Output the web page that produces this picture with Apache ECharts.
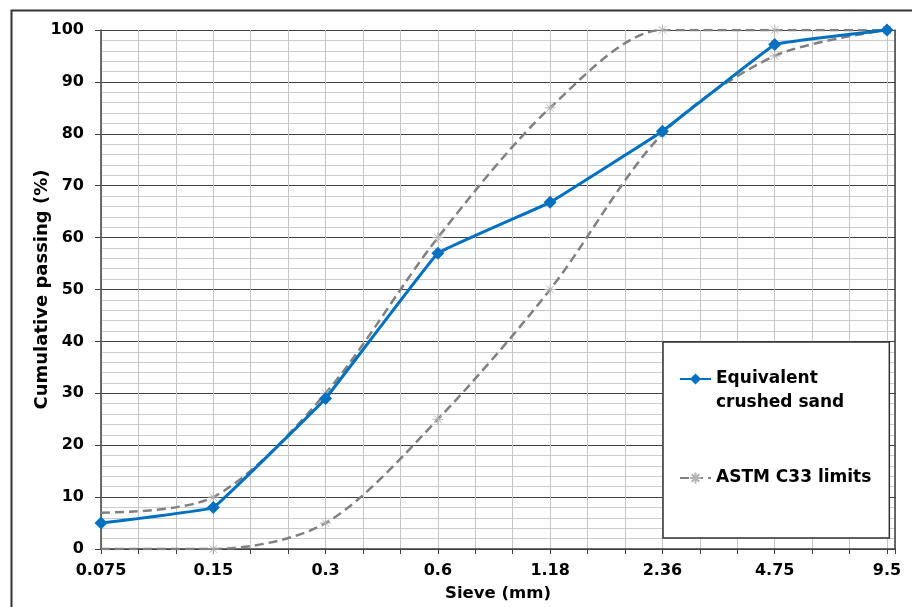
<!DOCTYPE html>
<html><head><meta charset="utf-8">
<script src="https://cdn.jsdelivr.net/npm/echarts@6/dist/echarts.min.js"></script>
<style>html,body{margin:0;padding:0;background:#fff}#c{width:912px;height:607px}</style>
</head><body><div id="c"></div>
<script>
const sieveLabels = ['0.075', '0.15', '0.3', '0.6', '1.18', '2.36', '4.75', '9.5'];
const crushedSand = [5, 8, 29, 57, 66.8, 80.5, 97.2, 100];
const astmUpper = [7, 10, 30, 60, 85, 100, 100, 100];
const astmLower = [0, 0, 5, 25, 50, 80, 95, 100];

const FONT = 'DejaVu Sans';
const STEP = 3; // minor divisions per sieve category
const toXY = (arr) => arr.map((v, i) => [i * STEP, v]);
const toXYNoFirstMarker = (arr) => arr.map((v, i) => i === 0 ? { value: [0, v], symbol: 'none' } : [i * STEP, v]);
const starPath = 'path://M5,0L5,10M0,5L10,5M1.6,1.6L8.4,8.4M1.6,8.4L8.4,1.6';
const lastX = (sieveLabels.length - 1) * STEP;

const chart = echarts.init(document.getElementById('c'), null, { renderer: 'canvas' });
chart.setOption({
  animation: false,
  backgroundColor: '#fff',
  graphic: [{
    type: 'rect', left: 9, top: 8, z: -10, silent: true,
    shape: { width: 1000, height: 700 },
    style: { fill: 'none', stroke: '#333', lineWidth: 2 }
  }],
  grid: { left: 101, right: 17, top: 30, bottom: 58 },
  legend: {
    orient: 'vertical', left: 663, top: 342,
    padding: [1, 18, 48, 16],
    itemGap: 51, itemWidth: 31, itemHeight: 14,
    backgroundColor: '#fff', borderColor: '#333', borderWidth: 1.5,
    textStyle: { fontFamily: FONT, fontWeight: 'bold', fontSize: 17, color: '#000', lineHeight: 24 },
    formatter: (n) => n === 'Equivalent crushed sand' ? '\nEquivalent\ncrushed sand' : n,
    data: ['Equivalent crushed sand', 'ASTM C33 limits']
  },
  xAxis: {
    type: 'value', min: 0, max: lastX + 0.2137, interval: 1,
    name: 'Sieve (mm)', nameLocation: 'middle', nameGap: 36, nameMoveOverlap: false,
    nameTextStyle: { fontFamily: FONT, fontWeight: 'bold', fontSize: 16.5, color: '#000' },
    axisLine: { show: true, onZero: false, lineStyle: { color: '#404040', width: 1.5 } },
    axisTick: { show: true, length: 5, lineStyle: { color: '#404040' } },
    axisLabel: {
      margin: 14, fontFamily: FONT, fontWeight: 'bold', fontSize: 16, color: '#000',
      formatter: (v) => {
        const r = Math.round(v);
        if (Math.abs(v - r) > 1e-6 || r % STEP !== 0 || r > lastX) return '';
        return sieveLabels[r / STEP];
      }
    },
    splitLine: { show: true, lineStyle: { color: '#c4c4c4', width: 1 } }
  },
  yAxis: [{
    type: 'value', min: 0, max: 100, interval: 10,
    name: 'Cumulative passing (%)', nameLocation: 'middle', nameGap: 50, nameMoveOverlap: false,
    nameTextStyle: { fontFamily: FONT, fontWeight: 'bold', fontSize: 18, color: '#000' },
    axisLine: { show: true, lineStyle: { color: '#404040', width: 1.5 } },
    axisTick: { show: true, length: 6, lineStyle: { color: '#404040' } },
    axisLabel: { margin: 17, fontFamily: FONT, fontWeight: 'bold', fontSize: 16, color: '#000' },
    splitLine: { show: true, lineStyle: { color: '#404040', width: 1 } },
    minorTick: { show: false, splitNumber: 5 },
    minorSplitLine: { show: true, lineStyle: { color: '#cccccc', width: 1 } }
  }, {
    type: 'value', min: 0, max: 100, position: 'right',
    axisLine: { show: true, lineStyle: { color: '#404040', width: 1.5 } },
    axisTick: { show: false }, axisLabel: { show: false }, splitLine: { show: false }
  }],
  series: [{
    name: 'ASTM C33 limits', type: 'line', data: toXYNoFirstMarker(astmUpper),
    smooth: 0.3, symbol: starPath, symbolSize: 11, z: 2,
    lineStyle: { color: '#808080', width: 2.5, type: [9, 5] },
    itemStyle: { color: '#b4b4b4', borderColor: '#b4b4b4', borderWidth: 1 }
  }, {
    name: 'ASTM C33 limits', type: 'line', data: toXYNoFirstMarker(astmLower),
    smooth: 0.3, symbol: starPath, symbolSize: 11, z: 2,
    lineStyle: { color: '#808080', width: 2.5, type: [9, 5] },
    itemStyle: { color: '#b4b4b4', borderColor: '#b4b4b4', borderWidth: 1 }
  }, {
    name: 'Equivalent crushed sand', type: 'line', data: toXY(crushedSand),
    smooth: 0.05, symbol: 'diamond', symbolSize: 13, z: 3,
    lineStyle: { color: '#0070C0', width: 3 },
    itemStyle: { color: '#0070C0' }
  }]
});
</script></body></html>
